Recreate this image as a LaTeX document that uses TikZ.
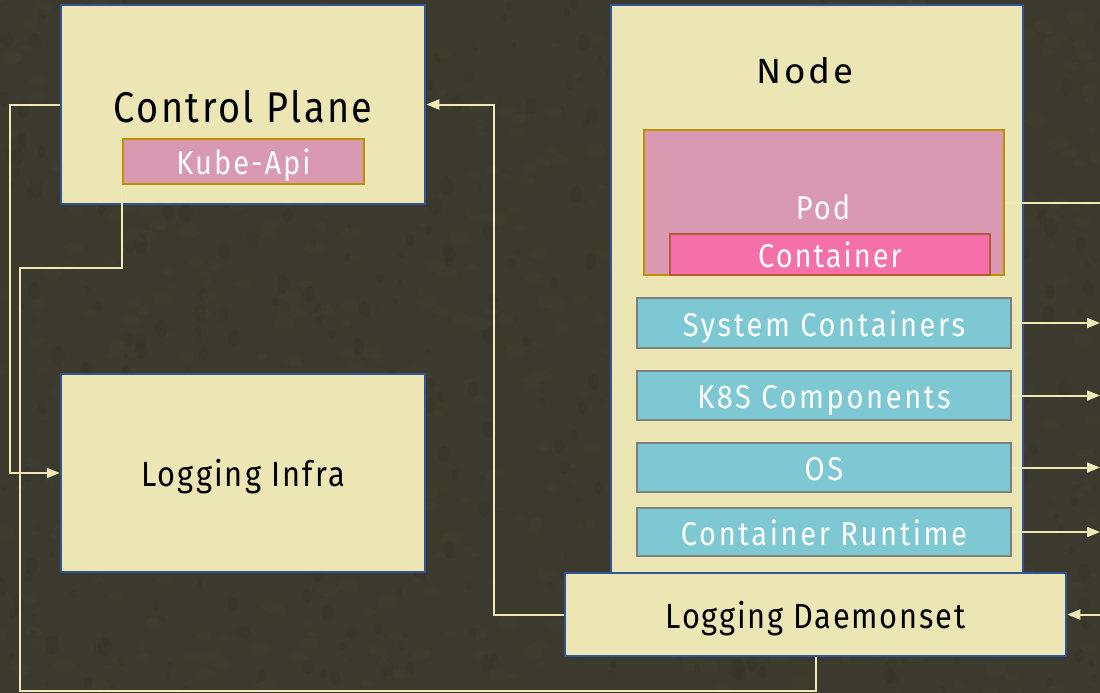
\documentclass[tikz,border=0pt]{standalone}
\usepackage{fontspec}
\setmainfont{Fira Sans}[FakeStretch=0.88,LetterSpace=6]
\usetikzlibrary{arrows.meta,calc}

\definecolor{bgdark}{HTML}{3C3A2E}
\definecolor{bgspeck}{HTML}{4A4739}
\definecolor{bgshade}{HTML}{2E2C23}
\definecolor{paleyellow}{HTML}{ECE6B5}
\definecolor{frameblue}{HTML}{2F5597}
\definecolor{podpink}{HTML}{D899B1}
\definecolor{podgold}{HTML}{BF9000}
\definecolor{ctrpink}{HTML}{F570A8}
\definecolor{ctrbrown}{HTML}{B45B3C}
\definecolor{layerteal}{HTML}{7EC8D4}
\definecolor{layergrey}{HTML}{7F7F7F}
\definecolor{wire}{HTML}{EFE9B8}

\tikzset{
  panel/.style={draw=frameblue, line width=2.5pt, fill=paleyellow, inner sep=0pt,
    font=\fontsize{35}{42}\selectfont, text=black, text height=27pt, text depth=0pt},
  podbox/.style={draw=podgold, line width=2pt, fill=podpink, inner sep=0pt,
    font=\fontsize{33}{40}\selectfont, text=white, text height=26pt, text depth=0pt},
  ctrbox/.style={draw=ctrbrown, line width=2pt, fill=ctrpink, inner sep=0pt,
    font=\fontsize{33}{40}\selectfont, text=white, text height=26pt, text depth=0pt},
  layer/.style={draw=layergrey, line width=2.5pt, fill=layerteal, inner sep=0pt,
    minimum width=374pt, font=\fontsize{33}{40}\selectfont\addfontfeature{LetterSpace=8},
    text=white, text height=26pt, text depth=0pt},
  wireline/.style={draw=wire, line width=2pt},
  wirearrow/.style={wireline, -{Triangle[length=13pt,width=10pt]}},
  caption/.style={inner sep=0pt, text=black},
}

\begin{document}
\begin{tikzpicture}[x=1pt,y=1pt]
  % canvas with a faint mottled texture
  \fill[bgdark] (0,0) rectangle (1100,-693);
  \begin{scope}
    \clip (0,0) rectangle (1100,-693);
    \pgfmathsetseed{4211}
    \foreach \i in {1,...,700} {
      \pgfmathsetmacro{\px}{rnd*1100}
      \pgfmathsetmacro{\py}{-rnd*693}
      \pgfmathsetmacro{\pr}{3+rnd*8}
      \fill[bgspeck, opacity=0.18] (\px,\py) ellipse ({\pr} and {0.6*\pr});
    }
    \foreach \i in {1,...,500} {
      \pgfmathsetmacro{\px}{rnd*1100}
      \pgfmathsetmacro{\py}{-rnd*693}
      \pgfmathsetmacro{\pr}{3+rnd*7}
      \fill[bgshade, opacity=0.18] (\px,\py) ellipse ({0.7*\pr} and {\pr});
    }
  \end{scope}
  \useasboundingbox (0,0) rectangle (1100,-693);

  % left column
  \node[panel, minimum width=364pt, minimum height=199pt] (cp) at (243,-104.5) {};
  \node[caption, font=\fontsize{43}{50}\selectfont] (cplabel) at (243,-107) {Control Plane};
  \node[podbox, minimum width=241pt, minimum height=45pt] (kube) at (243.5,-161.5) {Kube-Api};
  \node[panel, minimum width=364pt, minimum height=198pt] (infra) at (243,-473) {Logging Infra};

  % worker node
  \node[panel, minimum width=412pt, minimum height=570pt] (node) at (817,-290) {};
  \node[caption, font=\fontsize{35}{42}\selectfont\addfontfeature{FakeStretch=1.05,LetterSpace=8}] (nodelabel) at (805,-71) {Node};
  \node[podbox, minimum width=360pt, minimum height=145pt] (pod) at (824,-202.5) {};
  \node[inner sep=0pt, text=white, font=\fontsize{33}{40}\selectfont] (podlabel) at (823,-207) {Pod};
  \node[ctrbox, minimum width=320pt, minimum height=41pt] (ctr) at (830,-254.5) {Container};
  \node[layer, minimum height=50pt] (sys) at (824,-323) {System Containers};
  \node[layer, minimum height=49pt] (k8s) at (824,-395.5) {K8S Components};
  \node[layer, minimum height=49pt] (os) at (824,-467.5) {OS};
  \node[layer, minimum height=48pt] (rt) at (824,-532) {Container Runtime};
  \node[panel, minimum width=501pt, minimum height=83pt, font=\fontsize{35}{42}\selectfont\addfontfeature{LetterSpace=5}] (ds) at (815.5,-614.5) {Logging Daemonset};

  % free ends at the right margin
  \coordinate (podout) at (1100,-202.5);
  \coordinate (sysout) at (1100,-323);
  \coordinate (k8sout) at (1100,-395.5);
  \coordinate (osout) at (1100,-467.5);
  \coordinate (rtout) at (1100,-532);
  \coordinate (dsin) at (1100,-614.5);

  % connectors
  \draw[wirearrow] (cp.west) -- ++(-50,0) |- (infra.west);
  \draw[wireline] (kube.south west) -- ++(0,-83) -- ++(-102,0)
    |- ($(ds.south)+(0,-34)$) -- (ds.south);
  \draw[wirearrow] (ds.west) -- ++(-70,0) |- (cp.east);
  \draw[wireline] (pod.east) -- (podout);
  \draw[wirearrow] (sys.east) -- (sysout);
  \draw[wirearrow] (k8s.east) -- (k8sout);
  \draw[wirearrow] (os.east) -- (osout);
  \draw[wirearrow] (rt.east) -- (rtout);
  \draw[wirearrow] (dsin) -- (ds.east);
\end{tikzpicture}
\end{document}
